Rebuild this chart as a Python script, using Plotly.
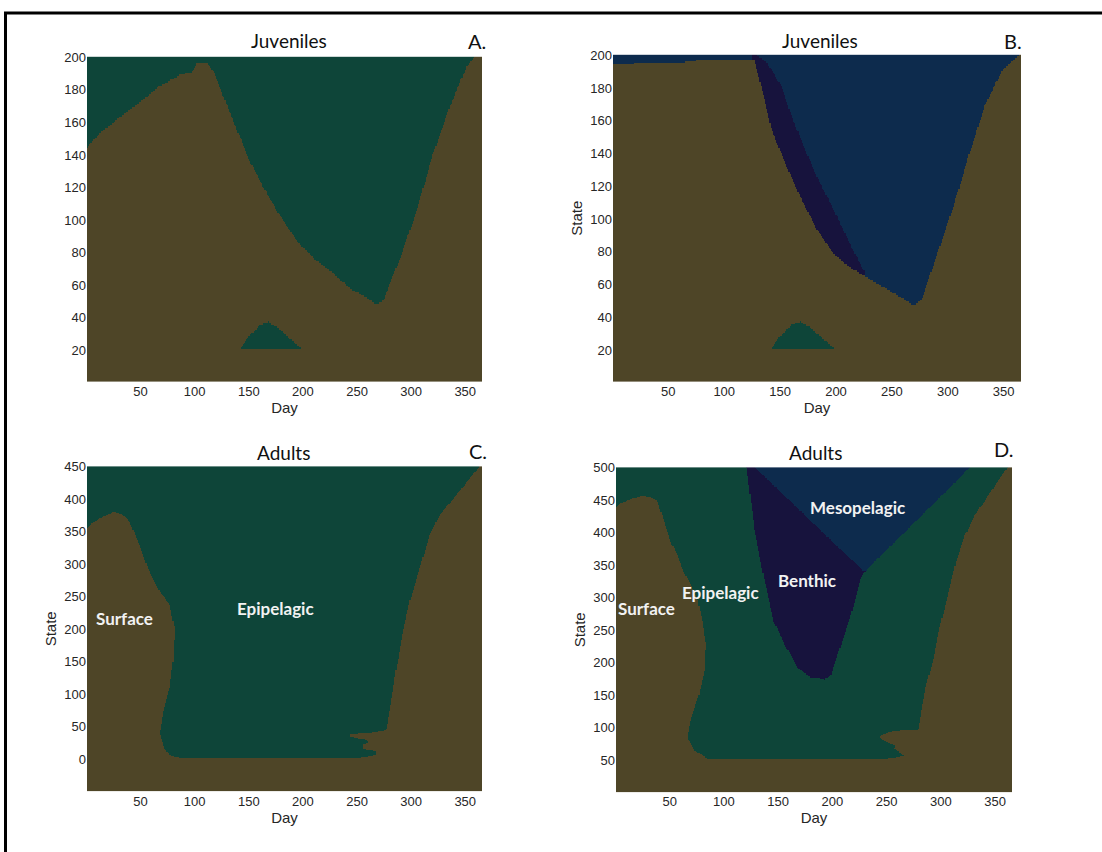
import numpy as np
import plotly.graph_objects as go

# ---------------- data ----------------
days = np.arange(1, 366)

# Panel A (juveniles, 1 habitat switch): state at which surface -> epipelagic
A_days = [0, 12, 27, 49, 67, 86, 98, 102, 112, 118, 135, 151, 166, 182, 197, 212, 228, 243, 259, 268, 274, 289, 305, 320, 336, 351, 360, 365]
A_top = [144, 153, 161, 172, 182, 189, 191, 196, 196, 190, 162, 136, 117, 99, 85, 75, 67, 58, 52, 48, 50, 75, 105, 140, 170, 194, 201, 205]

# small epipelagic patch (panels A and B)
hump_days = [143, 150, 160, 168, 176, 186, 198]
hump_top = [21, 28, 35, 37, 34, 28, 21]
hump_base = 21

# Panel B (juveniles, with benthic/mesopelagic)
B_days = [0, 20, 60, 75, 125, 127, 136, 142, 154, 169, 184, 199, 213, 228, 243, 258, 270, 276, 288, 303, 318, 333, 348, 357, 365]
B_top = [194, 195, 195.5, 197, 197.5, 197, 173, 155, 135, 112, 92, 78, 70, 64, 58, 52, 47, 50, 73, 103, 137, 169, 190, 196, 201]
B_navy_days = [125, 127, 139, 151, 160, 172, 184, 199, 213, 225, 227]
B_navy_top = [201, 201, 195, 181, 163, 143, 124, 104, 84, 68, 60]

# Panel C (adults)
C_L_y = [2, 5, 15, 40, 75, 110, 150, 200, 237, 258, 288, 329, 364, 372, 378, 380]
C_L_day = [85, 78, 72, 67.5, 71, 77, 80, 81.5, 77, 67.6, 58, 49, 40, 36, 30, 25]
C_A_y = [354, 362, 370, 377, 380]
C_A_day = [0, 5, 12, 21, 25]
C_R_y = [2, 6, 12, 16, 22, 26, 30, 34, 38, 42, 45, 90, 136, 192, 242, 293, 344, 374, 400, 425, 450]
C_R_day = [254, 268, 268, 256, 256, 262, 258, 244, 244, 270, 277, 281.7, 286, 292, 298.6, 308, 317, 326, 338.6, 351, 363]
C_floor = 2

# Panel D (adults, with benthic/mesopelagic)
D_L_y = [52, 55, 65, 85, 111, 151, 187, 228, 263, 299, 319, 339, 365, 385, 416, 449, 454, 456]
D_L_day = [84, 82, 72.5, 66, 69, 77, 82, 83.3, 80, 75.6, 69.4, 63, 57, 51, 45, 38.7, 32, 25]
D_A_y = [438, 445, 451, 454, 456]
D_A_day = [0, 5, 14, 20, 25]
D_R_y = [52, 56, 62, 68, 72, 78, 84, 88, 94, 97, 126, 162, 202, 253, 304, 355, 395, 426, 456, 487, 500]
D_R_day = [252, 266, 262, 257, 258, 250, 243, 245, 255, 279, 282, 286, 292.6, 298.7, 306.4, 314, 322, 331, 343.4, 355.7, 361.8]
D_floor = 52
D_benthic_days = [121, 128, 137, 146, 156, 168, 180, 193, 199, 208, 217, 226, 230]
D_benthic_bottom = [500, 405, 329, 263, 228, 192, 177, 174, 182, 228, 273, 329, 340]
D_meso_days = [128.5, 150, 180, 200, 229.5, 248, 279, 309.5, 326.5]
D_meso_bottom = [500, 466, 418, 386, 339.5, 370, 421, 471, 500]

x_ticks = [50, 100, 150, 200, 250, 300, 350]
A_yticks = list(range(20, 201, 20))
C_yticks = list(range(0, 451, 50))
D_yticks = list(range(50, 501, 50))

# habitat codes
SURF, EPI, BEN, MESO = 0, 1, 2, 3
colors = ["#4e4527", "#0e4539", "#17133d", "#0d2b4d"]


def in_range(d, lo_days, vals, default):
    lo, hi = lo_days[0], lo_days[-1]
    v = np.interp(d, lo_days, vals)
    return np.where((d >= lo) & (d <= hi), v, default)


# ---- grid A ----
yA = np.arange(1, 201)
D, Y = np.meshgrid(days, yA)
zA = np.full(D.shape, EPI)
zA[Y <= np.interp(D, A_days, A_top)] = SURF
ht = in_range(D, hump_days, hump_top, -1)
zA[(Y >= hump_base) & (Y <= ht)] = EPI

# ---- grid B ----
zB = np.full(D.shape, MESO)
btop = np.interp(D, B_days, B_top)
ntop = in_range(D, B_navy_days, B_navy_top, -1)
zB[(Y > btop) & (Y <= ntop)] = BEN
zB[Y <= btop] = SURF
zB[(Y >= hump_base) & (Y <= ht)] = EPI

# ---- grid C ----
yC = np.arange(-49, 451)
DC, YC = np.meshgrid(days, yC)
zC = np.full(DC.shape, EPI)
Lc = np.interp(YC, C_L_y, C_L_day)
Ac = np.where(YC >= C_A_y[0], np.interp(YC, C_A_y, C_A_day), 0)
zC[(DC <= Lc) & (DC >= Ac) & (YC <= C_L_y[-1])] = SURF
Rc = np.interp(YC, C_R_y, C_R_day)
zC[DC >= Rc] = SURF
zC[YC < C_floor] = SURF

# ---- grid D ----
yD = np.arange(1, 501)
DD, YD = np.meshgrid(days, yD)
zD = np.full(DD.shape, EPI)
Ld = np.interp(YD, D_L_y, D_L_day)
Ad = np.where(YD >= D_A_y[0], np.interp(YD, D_A_y, D_A_day), 0)
zD[(DD <= Ld) & (DD >= Ad) & (YD <= D_L_y[-1])] = SURF
Rd = np.interp(YD, D_R_y, D_R_day)
zD[DD >= Rd] = SURF
zD[YD < D_floor] = SURF
mb = in_range(DD, D_meso_days, D_meso_bottom, 1e9)
bb = in_range(DD, D_benthic_days, D_benthic_bottom, 1e9)
zD[YD >= mb] = MESO
zD[(YD >= bb) & (YD < mb)] = BEN

# ---------------- figure ----------------
W, H = 1102, 852
cs = []
for i, c in enumerate(colors):
    cs += [[i / 4, c], [(i + 1) / 4, c]]

panels = [
    dict(z=zA, y=yA, dom_x=(87, 482), dom_y=(50, 378), yr=(0.5, 200.5), yt=A_yticks, ylab=False),
    dict(z=zB, y=yA, dom_x=(613, 1021), dom_y=(48, 378), yr=(0.5, 200.5), yt=A_yticks, ylab=True),
    dict(z=zC, y=yC, dom_x=(87, 482), dom_y=(463, 791), yr=(-49.5, 450.5), yt=C_yticks, ylab=True),
    dict(z=zD, y=yD, dom_x=(616, 1012), dom_y=(464, 792), yr=(0.5, 500.5), yt=D_yticks, ylab=True),
]

fig = go.Figure()
tickfont = dict(family="Liberation Sans, Arial, sans-serif", size=13, color="#262626")
labfont = dict(family="Liberation Sans, Arial, sans-serif", size=15, color="#262626")
layout = dict(width=W, height=H, margin=dict(l=0, r=0, t=0, b=0),
              paper_bgcolor="white", plot_bgcolor="white", showlegend=False)
for i, p in enumerate(panels, start=1):
    sfx = "" if i == 1 else str(i)
    fig.add_trace(go.Heatmap(z=p["z"], x=days, y=p["y"], colorscale=cs, zmin=-0.5, zmax=3.5,
                             showscale=False, xaxis="x" + sfx, yaxis="y" + sfx, hoverinfo="skip"))
    layout["xaxis" + sfx] = dict(domain=[p["dom_x"][0] / W, p["dom_x"][1] / W], range=[0.5, 365.5],
                                 anchor="y" + sfx, tickvals=x_ticks, tickfont=tickfont, showgrid=False,
                                 zeroline=False, ticks="", ticklen=0,
                                 title=dict(text="Day", font=labfont, standoff=4))
    layout["yaxis" + sfx] = dict(domain=[1 - p["dom_y"][1] / H, 1 - p["dom_y"][0] / H], range=list(p["yr"]),
                                 anchor="x" + sfx, tickvals=p["yt"], tickfont=tickfont, showgrid=False,
                                 zeroline=False, ticks="", ticklen=0,
                                 title=dict(text="State" if p["ylab"] else "", font=labfont, standoff=4))
fig.update_layout(**layout)

title_font = dict(family="Lato, Open Sans, sans-serif", size=19, color="#111111")
letter_font = dict(family="Lato, Open Sans, sans-serif", size=20, color="#111111")
ann = []
for txt, x, y in [("Juveniles", 289, 34), ("Juveniles", 820, 34), ("Adults", 283, 449), ("Adults", 815, 449)]:
    ann.append(dict(text=txt, x=x / W, y=1 - y / H, xref="paper", yref="paper", showarrow=False,
                    font=title_font, xanchor="center", yanchor="middle"))
for txt, x, y in [("A.", 477, 34), ("B.", 1013, 34), ("C.", 478, 448), ("D.", 1003, 446)]:
    ann.append(dict(text=txt, x=x / W, y=1 - y / H, xref="paper", yref="paper", showarrow=False,
                    font=letter_font, xanchor="center", yanchor="middle"))
inner_font = dict(family="Lato, Open Sans, sans-serif", size=17, color="#f2f2f2")
for txt, ax, x, y in [("Surface", "3", 34.7, 216), ("Epipelagic", "3", 175, 232),
                      ("Surface", "4", 29, 284), ("Epipelagic", "4", 97, 308),
                      ("Benthic", "4", 177, 326), ("Mesopelagic", "4", 223, 438)]:
    ann.append(dict(text="<b>" + txt + "</b>", x=x, y=y, xref="x" + ax, yref="y" + ax, showarrow=False,
                    font=inner_font, xanchor="center", yanchor="middle"))
fig.update_layout(annotations=ann)

# outer frame (top and left edges)
fig.add_shape(type="line", xref="paper", yref="paper", x0=4 / W, x1=1, y0=1 - 6 / H, y1=1 - 6 / H,
              line=dict(color="black", width=3))
fig.add_shape(type="line", xref="paper", yref="paper", x0=5.5 / W, x1=5.5 / W, y0=0, y1=1 - 5 / H,
              line=dict(color="black", width=3))

fig.write_html("out.html")
